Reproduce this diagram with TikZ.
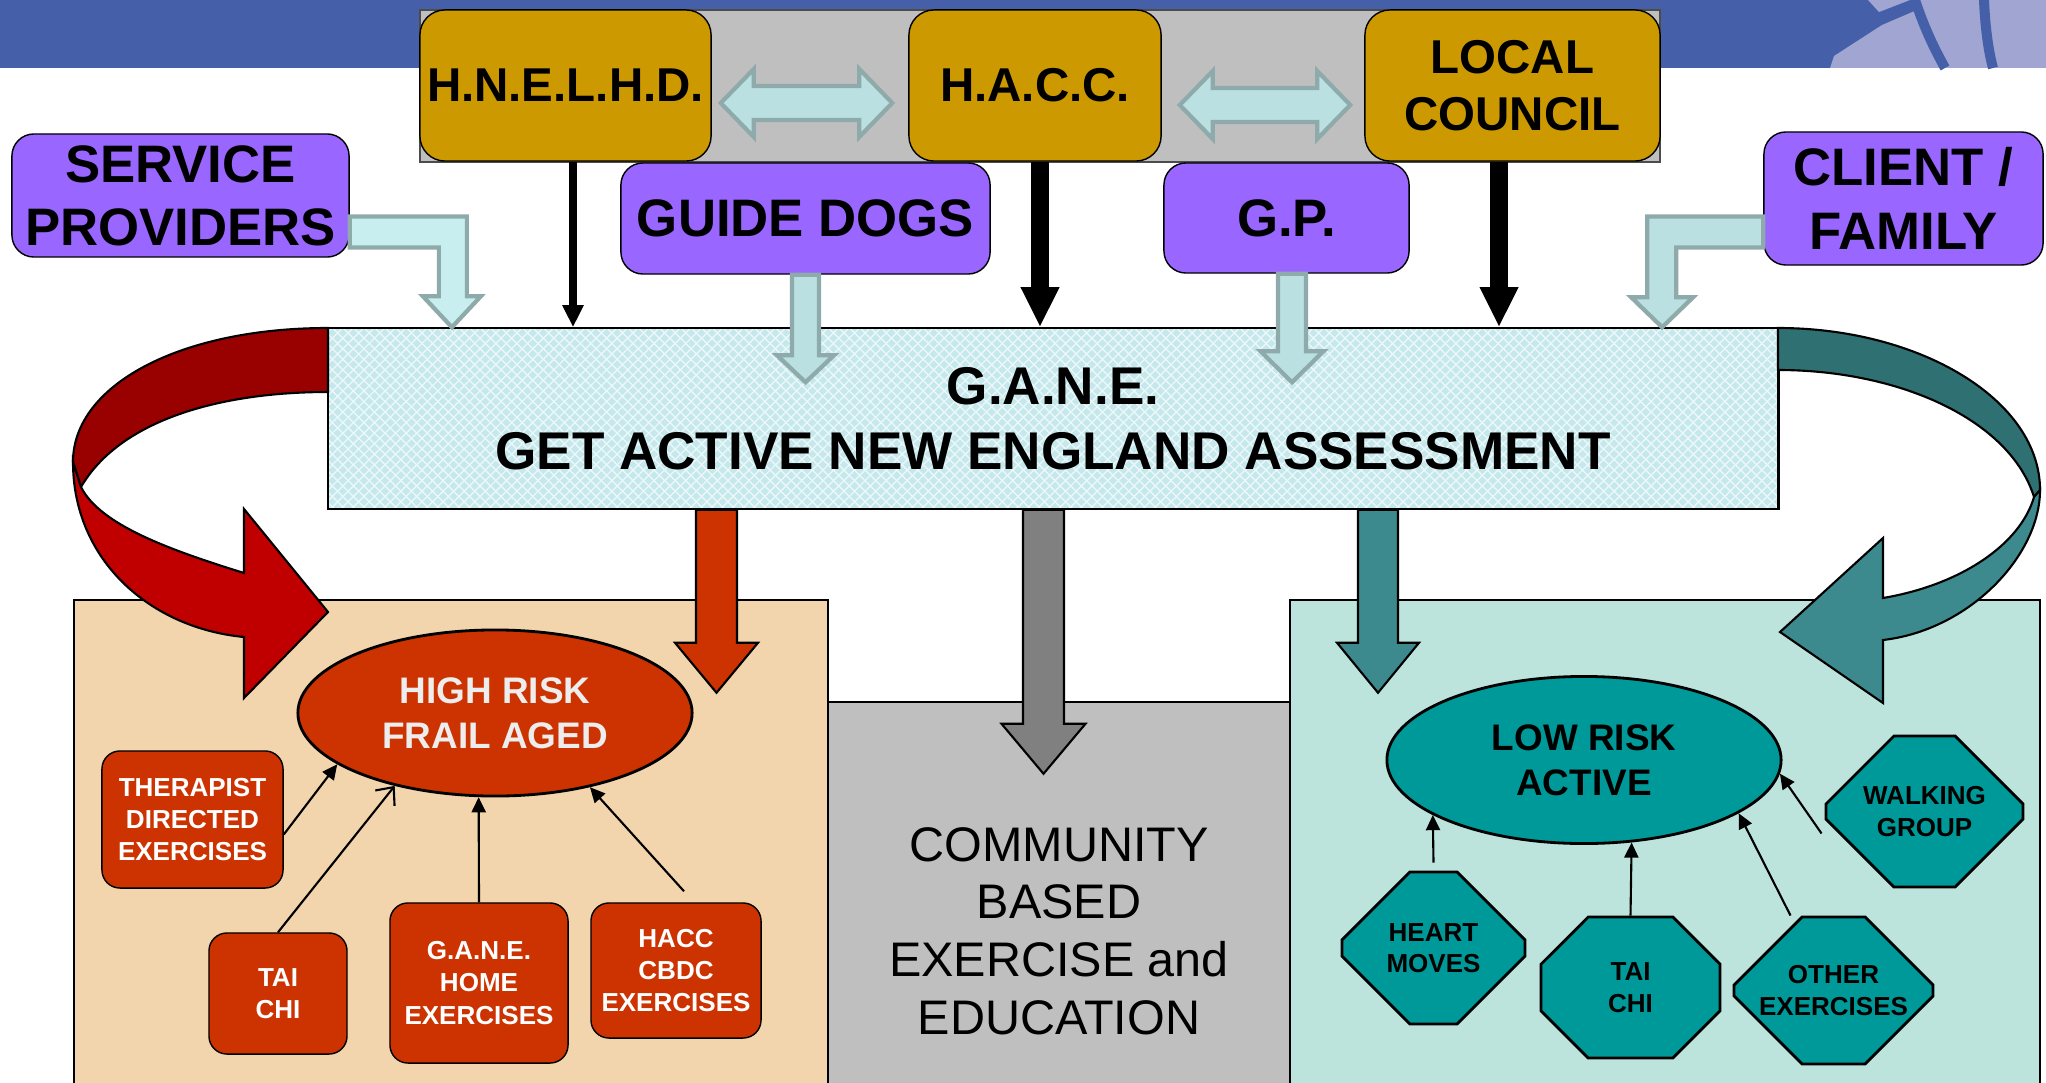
\documentclass[tikz,border=0pt]{standalone}
\usepackage{fontspec}
\setmainfont{Liberation Sans}
\usetikzlibrary{shapes.geometric, shapes.misc, arrows.meta, positioning, calc, patterns}

\definecolor{banner}{RGB}{69,96,168}
\definecolor{bannerlight}{RGB}{160,165,210}
\definecolor{gold}{RGB}{204,153,0}
\definecolor{lilac}{RGB}{153,102,255}
\definecolor{feedfill}{RGB}{186,224,226}
\definecolor{feedpale}{RGB}{200,238,240}
\definecolor{feededge}{RGB}{143,170,170}
\definecolor{ganefill}{RGB}{197,232,236}
\definecolor{rust}{RGB}{204,51,0}
\definecolor{darkred}{RGB}{153,0,0}
\definecolor{brightred}{RGB}{192,0,0}
\definecolor{darkteal}{RGB}{47,112,115}
\definecolor{midteal}{RGB}{61,138,142}
\definecolor{seateal}{RGB}{0,153,153}
\definecolor{sand}{RGB}{242,213,172}
\definecolor{mist}{RGB}{188,228,221}
\definecolor{stone}{RGB}{191,191,191}

\newcommand\blockdown[6]{\draw[#1] ($(#2)+(-#4,0)$) -- ($(#3)+(-#4,-#6)$) -- ($(#3)+(-#5,-#6)$) -- (#3) -- ($(#3)+(#5,-#6)$) -- ($(#3)+(#4,-#6)$) -- ($(#2)+(#4,0)$) -- cycle;}
\newcommand\blockboth[6]{\draw[#1] (#2) -- ($(#2)+(#6,-#5)$) -- ($(#2)+(#6,-#4)$) -- ($(#3)+(-#6,-#4)$) -- ($(#3)+(-#6,-#5)$) -- (#3) -- ($(#3)+(-#6,#5)$) -- ($(#3)+(-#6,#4)$) -- ($(#2)+(#6,#4)$) -- ($(#2)+(#6,#5)$) -- cycle;}

\begin{document}
\begin{tikzpicture}[x=0.01cm, y=-0.01cm,
	agency/.style={draw, fill=gold, rounded corners=0.25cm, align=center, inner sep=0pt, font=\fontsize{13.5}{16.2}\selectfont\bfseries},
	referrer/.style={draw, fill=lilac, rounded corners=0.22cm, align=center, inner sep=0pt, font=\fontsize{15}{18}\selectfont\bfseries},
	feed/.style={draw=feededge, fill=feedfill, line width=1.2pt},
	zone/.style={draw, line width=0.6pt},
	risk/.style={ellipse, draw, line width=0.8pt, align=center, inner sep=0pt, font=\fontsize{10.5}{12.8}\selectfont\bfseries},
	option/.style={draw, fill=rust, text=white, rounded corners=0.18cm, align=center, inner sep=0pt, font=\fontsize{7.4}{9.2}\selectfont\bfseries},
	activity/.style={chamfered rectangle, chamfered rectangle sep=0.43cm, draw, line width=0.8pt, fill=seateal, align=center, inner sep=0pt, font=\fontsize{7.4}{9}\selectfont\bfseries},
	link/.style={line width=0.6pt, -{Triangle[length=4.3pt,width=4pt]}}]
	\useasboundingbox (0,0) rectangle (2046,1082);
	\fill[banner] (0,0) rectangle (2046,68);
	\fill[bannerlight] (1830,68) -- (1834,56) -- (1882,25) -- (1917,10) -- (1917,0) -- (2046,0) -- (2046,68) -- cycle;
	\fill[bannerlight] (1868,0) -- (1879,12) -- (1910,0) -- cycle;
	\draw[banner, line width=0.1cm] (1915,0) .. controls (1925,30) and (1935,50) .. (1945,68);
	\draw[banner, line width=0.1cm] (1984,0) .. controls (1985,25) and (1988,50) .. (1993,68);
	\draw[fill=stone, draw=black!70] (420,10) rectangle (1660,162);
	\node[agency, minimum width=2.91cm, minimum height=1.51cm] (hnelhd) at (565.5,85.5) {H.N.E.L.H.D.};
	\node[agency, minimum width=2.52cm, minimum height=1.51cm] (hacc) at (1035,85.5) {H.A.C.C.};
	\node[agency, minimum width=2.95cm, minimum height=1.51cm] (council) at (1512.5,85.5) {LOCAL\\COUNCIL};
	\coordinate (hn-l) at ($(hnelhd.east)+(9,17.5)$);
	\coordinate (hn-r) at ($(hacc.west)+(-16,17.5)$);
	\blockboth{feed}{hn-l}{hn-r}{17}{34}{33}
	\coordinate (co-l) at ($(hacc.east)+(18,19.5)$);
	\coordinate (co-r) at ($(council.west)+(-14,19.5)$);
	\blockboth{feed}{co-l}{co-r}{17}{34}{33}
	\node[referrer, minimum width=3.37cm, minimum height=1.23cm] (provider) at (180.5,195.5) {SERVICE\\PROVIDERS};
	\node[referrer, minimum width=3.69cm, minimum height=1.11cm] (guide) at (805.5,218.5) {GUIDE DOGS};
	\node[referrer, minimum width=2.45cm, minimum height=1.1cm] (gp) at (1286.5,218) {G.P.};
	\node[referrer, minimum width=2.79cm, minimum height=1.33cm] (client) at (1903.5,198.5) {CLIENT /\\FAMILY};
	\draw[zone, fill=sand] (74,600) rectangle (828,1090);
	\draw[zone, fill=mist] (1290,600) rectangle (2040,1090);
	\draw[zone, fill=stone] (828,702) rectangle (1290,1090);
	\node[fill=ganefill, minimum width=14.5cm, minimum height=1.81cm, inner sep=0pt, align=center,
		font=\fontsize{15.1}{18.5}\selectfont\bfseries,
		postaction={pattern=north east lines, pattern color=white!65!ganefill},
		postaction={pattern=north west lines, pattern color=white!65!ganefill},
		postaction={draw, line width=0.6pt}] (gane) at (1053,418.5)
		{G.A.N.E.\\GET ACTIVE NEW ENGLAND ASSESSMENT};
	\draw[line width=2.5pt, -{Triangle[length=6.3pt,width=5.7pt]}] ($(hnelhd.south)+(7.5,0)$) -- ($(hnelhd.south |- gane.north)+(7.5,0)$);
	\draw[line width=5pt, -{Triangle[length=11.4pt,width=10.2pt]}] ($(hacc.south)+(5,0)$) -- ($(hacc.south |- gane.north)+(5,0)$);
	\draw[line width=5pt, -{Triangle[length=11.4pt,width=10.2pt]}] ($(council.south)+(-13.5,0)$) -- ($(council.south |- gane.north)+(-13.5,0)$);
	\coordinate (guidetip) at ($(guide.south |- gane.north)+(0,55)$);
	\blockdown{feed}{guide.south}{guidetip}{13.5}{28.5}{27}
	\coordinate (gpout) at ($(gp.south)+(5.5,0)$);
	\coordinate (gptip) at ($(gpout |- gane.north)+(0,55)$);
	\blockdown{feed}{gpout}{gptip}{14}{31.5}{31}
	\coordinate (provtip) at ($(gane.north west)+(125,0)$);
	\draw[feed, fill=feedpale] ($(provider.east)+(0,21)$) -| ($(provtip)+(15,-31)$) -- ($(provtip)+(29,-31)$) -- (provtip)
		-- ($(provtip)+(-29,-31)$) -- ($(provtip)+(-13,-31)$) |- ($(provider.east)+(0,52)$) -- cycle;
	\coordinate (clienttip) at ($(gane.north east)+(-117,0)$);
	\draw[feed] ($(client.west)+(0,18)$) -| ($(clienttip)+(-15,-30)$) -- ($(clienttip)+(-31,-30)$) -- (clienttip)
		-- ($(clienttip)+(31,-30)$) -- ($(clienttip)+(14,-30)$) |- ($(client.west)+(0,49)$) -- cycle;
	\draw[fill=darkred, line width=0.6pt] (328,328) .. controls (180,328) and (73,385) .. (73,462) -- (81,487)
		.. controls (120,420) and (220,392) .. (328,392) -- cycle;
	\draw[fill=brightred, line width=0.6pt] (73,462) .. controls (73,560) and (150,628) .. (244,637) -- (244,698) -- (328,612)
		-- (244,509) -- (244,573) .. controls (170,550) and (100,525) .. (81,487) -- cycle;
	\draw[fill=darkteal, line width=0.6pt] (1778,328) .. controls (1920,328) and (2040,400) .. (2040,490) -- (2034,497)
		.. controls (2010,420) and (1900,370) .. (1778,370) -- cycle;
	\draw[fill=midteal, line width=0.6pt] (2040,490) .. controls (2040,555) and (1970,630) .. (1883,640) -- (1883,703) -- (1780,632)
		-- (1883,538) -- (1883,598) .. controls (1960,585) and (2020,545) .. (2034,497) -- cycle;
	\coordinate (redout) at ($(gane.south)+(-336.5,0)$);
	\coordinate (redtip) at ($(redout)+(0,183)$);
	\blockdown{draw, fill=rust, line width=0.6pt}{redout}{redtip}{20.5}{41.5}{50}
	\coordinate (greyout) at ($(gane.south)+(-9.5,0)$);
	\coordinate (greytip) at ($(greyout)+(0,264)$);
	\blockdown{draw, fill=gray, line width=0.6pt}{greyout}{greytip}{20.5}{42}{50}
	\coordinate (tealout) at ($(gane.south)+(325,0)$);
	\coordinate (tealtip) at ($(tealout)+(0,183)$);
	\blockdown{draw, fill=midteal, line width=0.6pt}{tealout}{tealtip}{20}{41}{50}
	\node[align=center, font=\fontsize{13.8}{16.4}\selectfont] (community) at (1059,931) {COMMUNITY\\BASED\\EXERCISE and\\EDUCATION};
	\node[risk, fill=rust, text=white!93!black, minimum width=3.94cm, minimum height=1.66cm] (high) at (495,713) {HIGH RISK\\FRAIL AGED};
	\node[risk, fill=seateal, minimum width=3.94cm, minimum height=1.67cm] (low) at (1584,760) {LOW RISK\\ACTIVE};
	\node[option, minimum width=1.81cm, minimum height=1.37cm] (therapist) at (192.5,819.5) {THERAPIST\\DIRECTED\\EXERCISES};
	\node[option, minimum width=1.38cm, minimum height=1.21cm] (taichi) at (278,993.5) {TAI\\CHI};
	\node[option, minimum width=1.78cm, minimum height=1.6cm] (home) at (479,983) {G.A.N.E.\\HOME\\EXERCISES};
	\node[option, minimum width=1.7cm, minimum height=1.35cm] (cbdc) at (676,970.5) {HACC\\CBDC\\EXERCISES};
	\node[activity, minimum width=1.83cm, minimum height=1.52cm] (heart) at (1433.5,948) {HEART\\MOVES};
	\node[activity, minimum width=1.79cm, minimum height=1.41cm] (taichib) at (1630.5,987.5) {TAI\\CHI};
	\node[activity, minimum width=1.97cm, minimum height=1.47cm] (other) at (1833.5,990.5) {OTHER\\EXERCISES};
	\node[activity, minimum width=1.97cm, minimum height=1.51cm] (walking) at (1924.5,811.5) {WALKING\\GROUP};
	\draw[link] ($(therapist.east)+(0,15)$) -- (high.198);
	\draw[link, -{Straight Barb[length=4pt,width=7pt]}] (taichi.north) -- (high.216);
	\draw[link] (home.north) -- (high.259);
	\draw[link] ($(cbdc.north)+(8,-11)$) -- (high.322);
	\draw[link] ($(heart.north)+(0,-8)$) -- (low.200);
	\draw[link] (taichib.north) -- (low.300);
	\draw[link] ($(other.north)+(-43,0)$) -- (low.341);
	\draw[link] ($(walking.west)+(-3,22)$) -- (low.356);
\end{tikzpicture}
\end{document}
